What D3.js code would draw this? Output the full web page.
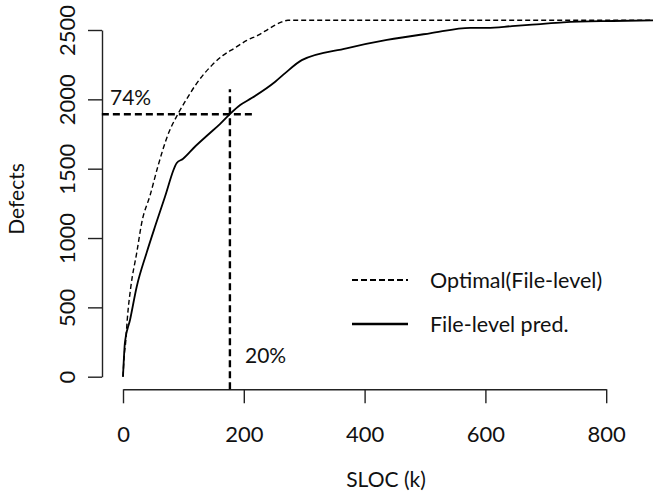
<!DOCTYPE html>
<html>
<head>
<meta charset="utf-8">
<script src="https://cdn.jsdelivr.net/npm/d3@7"></script>
<style>
  body { margin: 0; background: #fff; }
  svg text { font-family: Lato, "Open Sans", sans-serif; fill: #111; }
</style>
</head>
<body>
<div id="chart"></div>
<script>
// Optimal (File-level): cumulative defects vs cumulative SLOC (k)
const optSloc    = [0, 2, 4.5, 7, 13, 23, 31, 45, 58, 74, 91, 103, 122, 147, 165, 185, 205, 224, 240, 252, 263, 273, 880];
const optDefects = [0, 150, 252, 409, 649, 900, 1110, 1310, 1520, 1740, 1895, 1985, 2115, 2245, 2315, 2370, 2425, 2463, 2505, 2536, 2558, 2570, 2570];

// File-level pred.
const predSloc    = [0, 3.3, 11.6, 22.7, 39, 54, 69.5, 89, 99, 119, 144, 160, 177, 194, 213, 252, 268, 296, 370, 437, 508, 575, 603, 644, 685, 729, 811, 880];
const predDefects = [0, 252, 409, 649, 892, 1095, 1298, 1541, 1570, 1658, 1757, 1820, 1894, 1959, 2009, 2127, 2187, 2283, 2368, 2428, 2476, 2516, 2516, 2528, 2541, 2555, 2565, 2570];

const xTicks = [0, 200, 400, 600, 800];
const yTicks = [0, 500, 1000, 1500, 2000, 2500];

// 20% of SLOC inspected -> 74% of defects found
const cutSloc = 177;
const cutDefects = 1893;
const hLineFrom = -35, hLineTo = 215;
const vLineFrom = -91, vLineTo = 2073;

const legendItems = [
  { label: "Optimal(File-level)", dash: "6,3" },
  { label: "File-level pred.", dash: null }
];

const width = 653, height = 494;

const svg = d3.select("#chart").append("svg")
  .attr("width", width)
  .attr("height", height);

const x = d3.scaleLinear().domain([0, 800]).range([123, 606.2]);
const y = d3.scaleLinear().domain([0, 2500]).range([376.7, 30]);

const xAxisY = 389.3, yAxisX = 102;

// axes
const gx = svg.append("g")
  .attr("transform", `translate(0,${xAxisY})`)
  .call(d3.axisBottom(x).tickValues(xTicks).tickSize(14).tickSizeOuter(0).tickFormat(d3.format("d")));
gx.selectAll("text").attr("y", 45).attr("dy", "0.35em").style("font-size", "22px");

const gy = svg.append("g")
  .attr("transform", `translate(${yAxisX},0)`)
  .call(d3.axisLeft(y).tickValues(yTicks).tickSize(14).tickSizeOuter(0).tickFormat(d3.format("d")));
gy.selectAll("text")
  .attr("x", 0).attr("y", -35).attr("dy", "0.35em")
  .attr("text-anchor", "middle")
  .attr("transform", "rotate(-90)")
  .style("font-size", "22px");

svg.selectAll(".domain, .tick line").attr("stroke", "#222").attr("stroke-width", 1.4);

// axis titles
svg.append("text")
  .attr("x", 386).attr("y", 480).attr("dy", "0.35em")
  .attr("text-anchor", "middle")
  .style("font-size", "21px")
  .text("SLOC (k)");

svg.append("text")
  .attr("transform", "translate(17,199) rotate(-90)")
  .attr("dy", "0.35em")
  .attr("text-anchor", "middle")
  .style("font-size", "21px")
  .text("Defects");

// curves
const line = d3.line().x(d => x(d[0])).y(d => y(d[1])).curve(d3.curveMonotoneX);

svg.append("path")
  .datum(d3.zip(optSloc, optDefects))
  .attr("d", line)
  .attr("fill", "none")
  .attr("stroke", "#000")
  .attr("stroke-width", 1.4)
  .attr("stroke-dasharray", "5,3");

svg.append("path")
  .datum(d3.zip(predSloc, predDefects))
  .attr("d", line)
  .attr("fill", "none")
  .attr("stroke", "#000")
  .attr("stroke-width", 1.8);

// cut-off lines
svg.append("line")
  .attr("x1", x(hLineFrom)).attr("x2", x(hLineTo))
  .attr("y1", y(cutDefects)).attr("y2", y(cutDefects))
  .attr("stroke", "#000").attr("stroke-width", 2.4)
  .attr("stroke-dasharray", "7,4");

svg.append("line")
  .attr("x1", x(cutSloc)).attr("x2", x(cutSloc))
  .attr("y1", y(vLineFrom)).attr("y2", y(vLineTo))
  .attr("stroke", "#000").attr("stroke-width", 2.4)
  .attr("stroke-dasharray", "7,4");

svg.append("text")
  .attr("x", 110).attr("y", 105)
  .style("font-size", "21px")
  .text("74%");

svg.append("text")
  .attr("x", 245).attr("y", 363)
  .style("font-size", "21px")
  .text("20%");

// legend
const lg = svg.append("g").attr("transform", "translate(352,280)");
const li = lg.selectAll("g").data(legendItems).enter().append("g")
  .attr("transform", (d, i) => `translate(0,${i * 44})`);
li.append("line")
  .attr("x1", 0).attr("x2", 56)
  .attr("stroke", "#000")
  .attr("stroke-width", d => d.dash ? 2 : 2.4)
  .attr("stroke-dasharray", d => d.dash);
li.append("text")
  .attr("x", 78).attr("dy", "0.35em")
  .style("font-size", "21.5px")
  .text(d => d.label);
</script>
</body>
</html>
